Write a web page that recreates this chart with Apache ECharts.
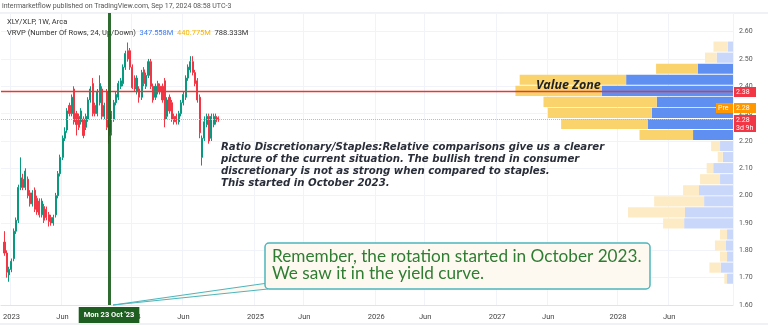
<!DOCTYPE html>
<html>
<head>
<meta charset="utf-8">
<script src="https://cdn.jsdelivr.net/npm/echarts@6/dist/echarts.min.js"></script>
<style>
  html, body { margin: 0; padding: 0; background: #fff; }
  #chart { width: 768px; height: 325px; }
</style>
</head>
<body>
<div id="chart"></div>
<script>
// weekly axis: first Monday shown and number of weekly slots up to late 2028
const firstWeek = Date.UTC(2022, 11, 5)
const weekCount = 315
const candleStart = 1 // first candle is the week of 2022-12-12

// XLY/XLP weekly candles
const opens = [
  1.83, 1.79, 1.71, 1.73, 1.77, 1.87, 1.91, 2.03, 2.06, 2.03,
  2.06, 2.01, 1.97, 2.02, 1.99, 1.98, 1.93, 1.96, 1.95, 1.93,
  1.92, 1.90, 1.93, 2.00, 2.08, 2.14, 2.21, 2.24, 2.33, 2.30,
  2.39, 2.30, 2.29, 2.27, 2.28, 2.25, 2.28, 2.35, 2.41, 2.33,
  2.30, 2.34, 2.39, 2.29, 2.38, 2.26, 2.23, 2.28, 2.34, 2.36,
  2.40, 2.41, 2.47, 2.53, 2.53, 2.47, 2.43, 2.38, 2.39, 2.36,
  2.46, 2.40, 2.44, 2.49, 2.40, 2.36, 2.41, 2.40, 2.40, 2.42,
  2.29, 2.36, 2.34, 2.29, 2.29, 2.27, 2.30, 2.34, 2.36, 2.43,
  2.46, 2.49, 2.45, 2.42, 2.36, 2.14, 2.21, 2.26, 2.29, 2.21,
  2.26, 2.29, 2.285
]
const closes = [
  1.79, 1.72, 1.73, 1.76, 1.87, 1.91, 2.03, 2.065, 2.03, 2.09,
  2.00, 1.97, 2.01, 1.95, 1.94, 1.93, 1.98, 1.91, 1.92, 1.905,
  1.90, 1.92, 2.00, 2.08, 2.14, 2.21, 2.235, 2.31, 2.30, 2.36,
  2.27, 2.26, 2.25, 2.31, 2.22, 2.29, 2.35, 2.39, 2.30, 2.30,
  2.38, 2.41, 2.29, 2.33, 2.25, 2.22, 2.30, 2.34, 2.37, 2.41,
  2.42, 2.47, 2.52, 2.50, 2.47, 2.395, 2.39, 2.43, 2.36, 2.45,
  2.41, 2.44, 2.49, 2.40, 2.35, 2.40, 2.38, 2.38, 2.35, 2.28,
  2.35, 2.31, 2.28, 2.27, 2.27, 2.30, 2.34, 2.37, 2.43, 2.47,
  2.49, 2.45, 2.41, 2.35, 2.23, 2.21, 2.27, 2.29, 2.20, 2.29,
  2.29, 2.27, 2.28
]
const lows = [
  1.78, 1.70, 1.685, 1.72, 1.76, 1.86, 1.90, 2.02, 2.02, 2.02,
  1.99, 1.96, 1.96, 1.94, 1.93, 1.92, 1.92, 1.90, 1.91, 1.887,
  1.89, 1.89, 1.92, 1.99, 2.07, 2.13, 2.20, 2.23, 2.29, 2.29,
  2.26, 2.22, 2.24, 2.26, 2.21, 2.24, 2.27, 2.34, 2.29, 2.29,
  2.29, 2.33, 2.28, 2.28, 2.24, 2.19, 2.22, 2.27, 2.33, 2.35,
  2.39, 2.40, 2.46, 2.49, 2.46, 2.39, 2.38, 2.37, 2.34, 2.35,
  2.40, 2.39, 2.43, 2.39, 2.34, 2.35, 2.37, 2.37, 2.34, 2.25,
  2.28, 2.30, 2.27, 2.26, 2.26, 2.26, 2.29, 2.33, 2.35, 2.42,
  2.45, 2.44, 2.40, 2.34, 2.21, 2.11, 2.20, 2.25, 2.19, 2.20,
  2.25, 2.26, 2.27
]
const highs = [
  1.87, 1.80, 1.74, 1.77, 1.88, 1.92, 2.04, 2.14, 2.08, 2.10,
  2.07, 2.02, 2.02, 2.03, 2.00, 1.99, 1.99, 1.97, 1.96, 1.94,
  1.93, 1.93, 2.01, 2.09, 2.15, 2.22, 2.25, 2.32, 2.34, 2.37,
  2.40, 2.31, 2.30, 2.32, 2.29, 2.30, 2.36, 2.40, 2.43, 2.34,
  2.39, 2.44, 2.40, 2.34, 2.39, 2.28, 2.31, 2.35, 2.38, 2.42,
  2.43, 2.48, 2.53, 2.56, 2.54, 2.48, 2.44, 2.44, 2.40, 2.46,
  2.47, 2.45, 2.50, 2.50, 2.41, 2.41, 2.42, 2.41, 2.41, 2.43,
  2.36, 2.37, 2.35, 2.30, 2.30, 2.31, 2.35, 2.38, 2.44, 2.48,
  2.51, 2.51, 2.46, 2.43, 2.37, 2.22, 2.29, 2.30, 2.30, 2.30,
  2.30, 2.30, 2.29
]

// volume profile, 22 rows from the top (2.565) down, row height 0.0404, in millions
const profileRowTop = 2.565
const profileRowStep = 0.0404
const profileUp = [2.5, 7.7, 16.6, 50.3, 61.7, 35.9, 38.2, 40.0, 18.8, 6.1, 4.8, 9.3, 6.1, 16.0, 13.6, 22.6, 23.0, 2.8, 3.3, 2.8, 5.8, 2.8]
const profileDown = [6.7, 5.5, 19.6, 50.1, 40.7, 53.3, 48.9, 40.9, 25.2, 4.2, 2.4, 3.1, 9.4, 7.5, 23.5, 26.8, 9.9, 3.3, 5.2, 3.3, 5.3, 1.3]
const valueArea = [2, 8]

const keyLevel = 2.38
const lastPrice = 2.28
const eventWeek = '2023-10-23'

const weeks = []
for (let i = 0; i < weekCount; i++) {
  weeks.push(new Date(firstWeek + i * 7 * 86400000).toISOString().slice(0, 10))
}
const candles = weeks.map((w, i) => {
  const k = i - candleStart
  if (k < 0 || k >= closes.length) return '-'
  return [opens[k], closes[k], lows[k], highs[k]]
})
const profileRows = profileUp.map((v, i) => (profileRowTop - profileRowStep * (i + 0.5)).toFixed(3))

const isLabelWeek = (value) => {
  const d = new Date(value + 'T00:00:00Z')
  return d.getUTCDate() <= 7 && (d.getUTCMonth() === 0 || d.getUTCMonth() === 5)
}
const weekLabel = (value) => {
  const d = new Date(value + 'T00:00:00Z')
  return d.getUTCMonth() === 0 ? String(d.getUTCFullYear()) : 'Jun'
}
const inValueArea = (i) => i >= valueArea[0] && i <= valueArea[1]

const textFont = 'Roboto, "Noto Sans", sans-serif'
const noteFont = '"DejaVu Sans", "Open Sans", sans-serif'

const priceLine = (name, value, color, type, width) => ({
  name,
  type: 'line',
  xAxisIndex: 0,
  yAxisIndex: 0,
  z: 4,
  data: [],
  markLine: {
    silent: true,
    symbol: 'none',
    label: { show: false },
    lineStyle: { color, type, width },
    data: [{ yAxis: value }]
  }
})

const chart = echarts.init(document.getElementById('chart'))

const option = {
  animation: false,
  backgroundColor: '#ffffff',
  axisPointer: { triggerOn: 'none' },
  grid: [
    { left: 0, right: 35, top: 13, bottom: 20 },
    { left: 0, right: 35, top: 41.1, height: 243.1 }
  ],
  xAxis: [
    {
      type: 'category',
      data: weeks,
      gridIndex: 0,
      boundaryGap: true,
      axisLine: { show: true, lineStyle: { color: '#e0e3eb' } },
      axisTick: { show: false },
      axisLabel: {
        interval: (i, v) => isLabelWeek(v),
        formatter: weekLabel,
        color: '#444',
        fontSize: 7.5,
        fontFamily: textFont,
        margin: 8
      },
      splitLine: { show: true, interval: (i, v) => isLabelWeek(v), lineStyle: { color: '#f0f3fa' } },
      axisPointer: {
        show: true,
        type: 'line',
        value: eventWeek,
        status: 'show',
        snap: false,
        triggerTooltip: false,
        lineStyle: { color: 'rgba(27, 94, 32, 0.92)', width: 3, type: 'solid' },
        label: {
          show: true,
          formatter: () => "Mon 23 Oct '23",
          backgroundColor: '#1e5e20',
          color: '#ffffff',
          fontSize: 7.5,
          fontWeight: 'bold',
          fontFamily: textFont,
          padding: [4, 5],
          borderRadius: 0,
          margin: 2
        }
      }
    },
    {
      type: 'value',
      gridIndex: 1,
      inverse: true,
      min: 0,
      max: 345,
      show: false
    }
  ],
  yAxis: [
    {
      type: 'value',
      gridIndex: 0,
      position: 'right',
      min: 1.6,
      max: 2.668,
      interval: 0.1,
      axisLine: { show: false },
      axisTick: { show: false },
      axisLabel: {
        showMaxLabel: false,
        formatter: (v) => v.toFixed(2),
        color: '#555',
        fontSize: 7,
        fontFamily: textFont,
        margin: 6
      },
      splitLine: { show: true, lineStyle: { color: '#f0f3fa' } }
    },
    {
      type: 'category',
      gridIndex: 1,
      data: profileRows,
      inverse: true,
      show: false
    }
  ],
  series: [
    {
      name: 'Up volume',
      type: 'bar',
      xAxisIndex: 1,
      yAxisIndex: 1,
      stack: 'vp',
      barCategoryGap: '8%',
      z: 1,
      data: profileUp,
      itemStyle: { color: (p) => inValueArea(p.dataIndex) ? '#5f8ff0' : '#c9d7fb' }
    },
    {
      name: 'Down volume',
      type: 'bar',
      xAxisIndex: 1,
      yAxisIndex: 1,
      stack: 'vp',
      barCategoryGap: '8%',
      z: 1,
      data: profileDown,
      itemStyle: { color: (p) => inValueArea(p.dataIndex) ? '#fad36d' : '#fdebc6' }
    },
    {
      name: 'XLY/XLP',
      type: 'candlestick',
      xAxisIndex: 0,
      yAxisIndex: 0,
      z: 3,
      barWidth: 1.6,
      data: candles,
      itemStyle: {
        color: '#089981',
        color0: '#f23645',
        borderColor: '#089981',
        borderColor0: '#f23645',
        borderWidth: 1
      }
    },
    priceLine('key level', keyLevel, '#e53935', 'solid', 1.3),
    priceLine('last price', lastPrice, '#f6b05a', 'dotted', 1)
  ],
  graphic: [
    { type: 'text', left: 2, top: 3, z: 10, style: { text: 'intermarketflow published on TradingView.com, Sep 17, 2024 08:58 UTC-3', fill: '#555', font: '7px ' + textFont } },
    { type: 'line', shape: { x1: 0, y1: 13, x2: 768, y2: 13 }, style: { stroke: '#e0e3eb', lineWidth: 1 }, z: 0 },
    { type: 'text', left: 7, top: 18, z: 10, style: { text: 'XLY/XLP, 1W, Arca', fill: '#333', font: '7.5px ' + textFont } },
    {
      type: 'text', left: 7, top: 29, z: 10,
      style: {
        rich: {
          a: { fill: '#333', font: '7.5px ' + textFont },
          b: { fill: '#3d7cf0', font: '7.5px ' + textFont },
          c: { fill: '#f5b300', font: '7.5px ' + textFont }
        },
        text: '{a|VRVP (Number Of Rows, 24, Up/Down)  }{b|347.558M}{a|  }{c|440.775M}{a|  788.333M}'
      }
    },
    { type: 'text', left: 536, top: 78.5, z: 10, style: { text: 'Value Zone', fill: '#222', font: 'italic bold 12.5px "Open Sans", sans-serif' } },
    {
      type: 'text', left: 221, top: 141, z: 10,
      style: {
        text: 'Ratio Discretionary/Staples:Relative comparisons give us a clearer\npicture of the current situation. The bullish trend in consumer\ndiscretionary is not as strong when compared to staples.\nThis started in October 2023.',
        fill: '#2a2e39',
        font: 'italic bold 10.2px ' + noteFont,
        lineHeight: 12
      }
    },
    // callout with its pointer
    { type: 'polygon', z: 11, shape: { points: [[113, 305], [268, 283], [268, 289]] }, style: { fill: '#fef9f0', stroke: '#4cb5bd', lineWidth: 1 } },
    { type: 'rect', z: 12, shape: { x: 265, y: 243, width: 385, height: 46, r: 4 }, style: { fill: '#fef9f0', stroke: '#4cb5bd', lineWidth: 1.5 } },
    {
      type: 'text', left: 272, top: 248, z: 13,
      style: {
        text: 'Remember, the rotation started in October 2023.\nWe saw it in the yield curve.',
        fill: '#2e7d32',
        font: '17.2px Lato, "Open Sans", sans-serif',
        lineHeight: 17
      }
    },
    // price badges on the scale
    { type: 'rect', z: 20, shape: { x: 734, y: 87, width: 22, height: 10 }, style: { fill: '#f23645' } },
    { type: 'text', z: 21, left: 736, top: 88.5, style: { text: '2.38', fill: '#fff', font: '7px ' + textFont } },
    { type: 'rect', z: 20, shape: { x: 716, y: 103, width: 17, height: 10 }, style: { fill: '#ff9800' } },
    { type: 'text', z: 21, left: 718, top: 104.5, style: { text: 'Pre', fill: '#fff', font: '7px ' + textFont } },
    { type: 'rect', z: 20, shape: { x: 734, y: 103, width: 22, height: 10 }, style: { fill: '#ff9800' } },
    { type: 'text', z: 21, left: 736, top: 104.5, style: { text: '2.28', fill: '#fff', font: '7px ' + textFont } },
    { type: 'rect', z: 20, shape: { x: 734, y: 115, width: 22, height: 17 }, style: { fill: '#f23645' } },
    { type: 'text', z: 21, left: 736, top: 116, style: { text: '2.28\n3d 9h', fill: '#fff', font: '7px ' + textFont, lineHeight: 8 } },
    { type: 'line', z: 0, shape: { x1: 0, y1: 324, x2: 768, y2: 324 }, style: { stroke: '#e0e3eb', lineWidth: 1 } }
  ]
}

chart.setOption(option)
</script>
</body>
</html>
